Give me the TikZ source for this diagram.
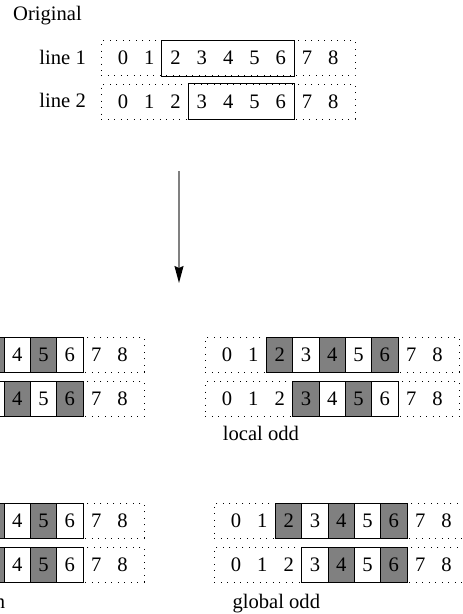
\documentclass[tikz,border=0pt]{standalone}
\usepackage{fontspec}
\setmainfont{Liberation Serif}
\usetikzlibrary{arrows.meta}
\definecolor{cellgrey}{RGB}{128,128,128}
\tikzset{
  txt/.style={inner sep=0pt, font=\fontsize{20.6}{24}\selectfont},
  cellbase/.style={txt, minimum width=26.3pt, minimum height=35pt, anchor=north west, line width=1pt},
  cn/.style={cellbase},
  cw/.style={cellbase, draw=black, fill=white},
  cg/.style={cellbase, draw=black, fill=cellgrey},
  rowbox/.style={draw=black, line width=1pt, dash pattern=on 1pt off 5.5pt, minimum width=253.7pt, minimum height=35pt, anchor=north west, inner sep=0pt},
  spanbox/.style={draw=black, line width=1pt},
  lbl/.style={txt, anchor=base west},
  flowarrow/.style={line width=1.3pt, draw=cellgrey, -{Stealth[color=black, length=17pt, width=9pt, inset=2pt]}},
}
\newcommand{\cellrow}[4]{%
  \node[rowbox] (#1) at ({#2-8.5},#3) {};
  \foreach \s [count=\i from 0] in {#4} {
    \node[\s] (#1-\i) at ({#2+\i*26.3},#3) {\i};
  }
}
\begin{document}
\begin{tikzpicture}[x=1pt,y=-1pt]
\useasboundingbox (0,0) rectangle (463,614);
\clip (0,0) rectangle (463,614);

% original
\node[lbl] (orig) at (13,20.7) {Original};
\node[txt, anchor=base east] (l1lbl) at (86,64) {line 1};
\node[txt, anchor=base east] (l2lbl) at (86,107.5) {line 2};
\cellrow{la}{109.3}{40}{cn,cn,cn,cn,cn,cn,cn,cn,cn}
\cellrow{lb}{109.3}{83.5}{cn,cn,cn,cn,cn,cn,cn,cn,cn}
\draw[spanbox] (la-2.north west) rectangle (la-6.south east);
\draw[spanbox] (lb-3.north west) rectangle (lb-6.south east);

% arrow
\coordinate (atop) at (179,171);
\coordinate (abot) at (179,283);
\draw[flowarrow] (atop) -- (abot);

% local even (left, cut off)
\cellrow{lea}{-101.6}{336.7}{cn,cn,cw,cg,cw,cg,cw,cn,cn}
\cellrow{leb}{-101.6}{381}{cn,cn,cn,cw,cg,cw,cg,cn,cn}

% local odd
\cellrow{loa}{213.4}{336.7}{cn,cn,cg,cw,cg,cw,cg,cn,cn}
\cellrow{lob}{213.4}{381}{cn,cn,cn,cg,cw,cg,cw,cn,cn}
\node[lbl] (lodd) at (222.7,440.7) {local odd};

% global even (left, cut off)
\cellrow{gea}{-101.6}{502.7}{cn,cn,cw,cg,cw,cg,cw,cn,cn}
\cellrow{geb}{-101.6}{546.7}{cn,cn,cn,cg,cw,cg,cw,cn,cn}
\node[lbl] (geven) at (-90.5,608.5) {global even};

% global odd
\cellrow{goa}{222.4}{502.7}{cn,cn,cg,cw,cg,cw,cg,cn,cn}
\cellrow{gob}{222.4}{546.7}{cn,cn,cn,cw,cg,cw,cg,cn,cn}
\node[lbl] (godd) at (232.3,608.5) {global odd};
\end{tikzpicture}
\end{document}
